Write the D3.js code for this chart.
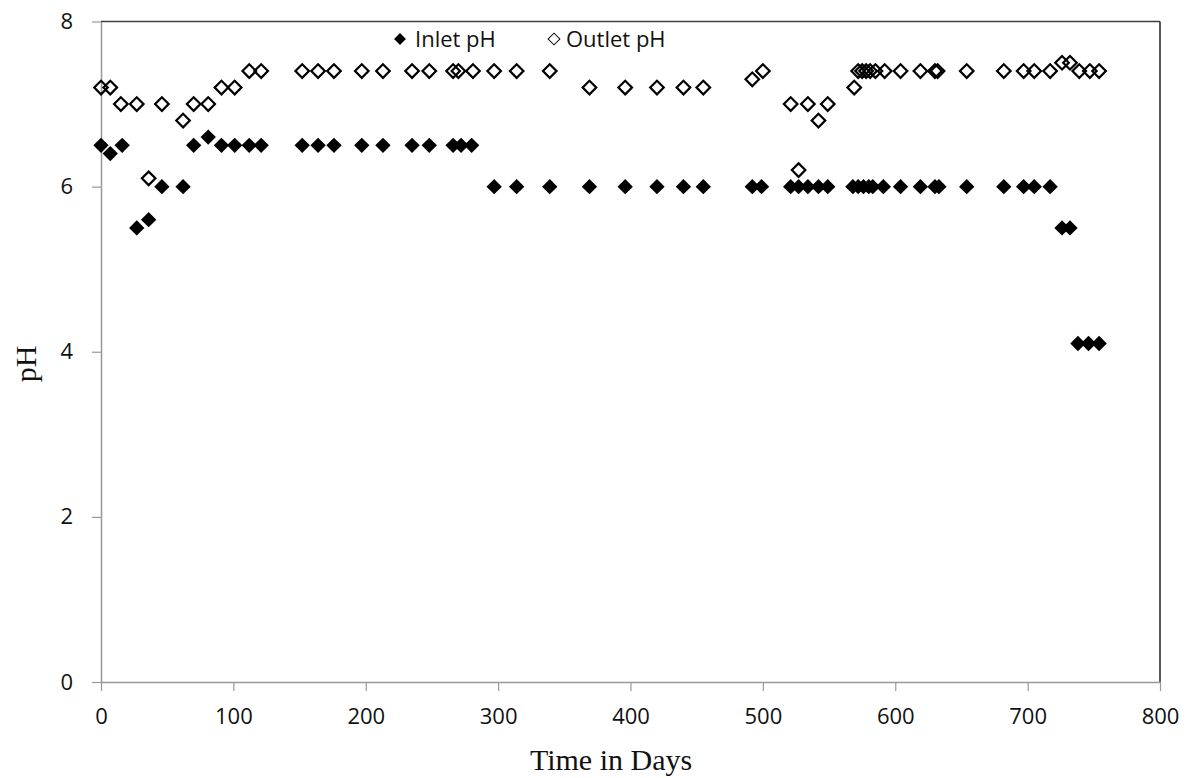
<!DOCTYPE html>
<html>
<head>
<meta charset="utf-8">
<script src="https://cdn.jsdelivr.net/npm/d3@7"></script>
<style>
  body { margin: 0; background: #fff; }
</style>
</head>
<body>
<div id="chart"></div>
<script>
// data
const inletDays = [0,7,16,27,36,46,62,70,81,91,101,112,121,152,164,176,197,213,235,248,266,272,280,
  297,314,339,369,396,420,440,455,492,499,521,527,534,542,549,568,572,576,580,583,591,604,619,630,633,
  654,682,697,705,717,726,732,738,746,754];
const inletPH = [6.5,6.4,6.5,5.5,5.6,6.0,6.0,6.5,6.6,6.5,6.5,6.5,6.5,6.5,6.5,6.5,6.5,6.5,6.5,6.5,6.5,6.5,6.5,
  6.0,6.0,6.0,6.0,6.0,6.0,6.0,6.0,6.0,6.0,6.0,6.0,6.0,6.0,6.0,6.0,6.0,6.0,6.0,6.0,6.0,6.0,6.0,6.0,6.0,
  6.0,6.0,6.0,6.0,6.0,5.5,5.5,4.1,4.1,4.1];

const outletDays = [0,7,15,27,36,46,62,70,81,91,101,112,121,152,164,176,197,213,235,248,266,270,281,
  297,314,339,369,396,420,440,455,492,500,521,527,534,542,549,569,572,575,578,581,585,592,604,619,630,632,
  654,682,697,705,717,726,732,739,747,754];
const outletPH = [7.2,7.2,7.0,7.0,6.1,7.0,6.8,7.0,7.0,7.2,7.2,7.4,7.4,7.4,7.4,7.4,7.4,7.4,7.4,7.4,7.4,7.4,7.4,
  7.4,7.4,7.4,7.2,7.2,7.2,7.2,7.2,7.3,7.4,7.0,6.2,7.0,6.8,7.0,7.2,7.4,7.4,7.4,7.4,7.4,7.4,7.4,7.4,7.4,7.4,
  7.4,7.4,7.4,7.4,7.4,7.5,7.5,7.4,7.4,7.4];

const xTicks = [0,100,200,300,400,500,600,700,800];
const yTicks = [0,2,4,6,8];

const width = 1192, height = 778;
const plotLeft = 101, plotRight = 1160, plotTop = 21.5, plotBottom = 682;

const x = d3.scaleLinear().domain([0,800]).range([plotLeft,plotRight]);
const y = d3.scaleLinear().domain([0,8]).range([plotBottom,plotTop]);

const svg = d3.select("#chart").append("svg")
    .attr("width", width)
    .attr("height", height);

// plot frame: top and right are dark, axes are grey
svg.append("line").attr("x1",plotLeft).attr("x2",plotRight).attr("y1",plotTop).attr("y2",plotTop)
    .attr("stroke","#404040").attr("stroke-width",1.5);
svg.append("line").attr("x1",plotRight).attr("x2",plotRight).attr("y1",plotTop).attr("y2",plotBottom)
    .attr("stroke","#202020").attr("stroke-width",1.5);

const tickFont = "'Open Sans', sans-serif";

const xAxis = svg.append("g")
    .attr("transform",`translate(0,${plotBottom})`)
    .call(d3.axisBottom(x).tickValues(xTicks).tickSize(9).tickPadding(12).tickSizeOuter(0));
const yAxis = svg.append("g")
    .attr("transform",`translate(${plotLeft},0)`)
    .call(d3.axisLeft(y).tickValues(yTicks).tickSize(9).tickPadding(19).tickSizeOuter(0));

[xAxis,yAxis].forEach(g=>{
    g.select(".domain").attr("stroke","#999").attr("stroke-width",1.5);
    g.selectAll(".tick line").attr("stroke","#999").attr("stroke-width",1.2);
    g.selectAll(".tick text").attr("fill","#111").attr("font-family",tickFont).attr("font-size",22);
});
xAxis.selectAll(".tick text").attr("dy","0.95em");

// markers
const filledDiamond = d3.symbol().type(d3.symbolSquare).size(118);
const hollowDiamond = d3.symbol().type(d3.symbolSquare).size(92);

const inlet = inletDays.map((d,i)=>({day:d, ph:inletPH[i]}));
const outlet = outletDays.map((d,i)=>({day:d, ph:outletPH[i]}));

svg.append("g").selectAll("path")
    .data(inlet)
    .join("path")
    .attr("d", filledDiamond)
    .attr("transform", d => `translate(${x(d.day)},${y(d.ph)}) rotate(45)`)
    .attr("fill","#000");

svg.append("g").selectAll("path")
    .data(outlet)
    .join("path")
    .attr("d", hollowDiamond)
    .attr("transform", d => `translate(${x(d.day)},${y(d.ph)}) rotate(45)`)
    .attr("fill","none")
    .attr("stroke","#000")
    .attr("stroke-width",2.2);

// legend
const legend = svg.append("g");
legend.append("path")
    .attr("d", d3.symbol().type(d3.symbolSquare).size(70))
    .attr("transform","translate(400,39) rotate(45)")
    .attr("fill","#000");
legend.append("text").attr("x",415).attr("y",47).attr("font-family",tickFont).attr("font-size",22)
    .attr("fill","#111").text("Inlet pH");
legend.append("path")
    .attr("d", d3.symbol().type(d3.symbolSquare).size(70))
    .attr("transform","translate(554,39) rotate(45)")
    .attr("fill","none").attr("stroke","#000").attr("stroke-width",1);
legend.append("text").attr("x",566).attr("y",47).attr("font-family",tickFont).attr("font-size",22)
    .attr("fill","#111").text("Outlet pH");

// axis titles
svg.append("text")
    .attr("x",611).attr("y",770)
    .attr("text-anchor","middle")
    .attr("font-family","'Liberation Serif', serif")
    .attr("font-size",30)
    .attr("fill","#111")
    .text("Time in Days");

svg.append("text")
    .attr("transform","translate(36,364) rotate(-90)")
    .attr("text-anchor","middle")
    .attr("font-family","'Liberation Serif', serif")
    .attr("font-size",30)
    .attr("fill","#111")
    .text("pH");
</script>
</body>
</html>
